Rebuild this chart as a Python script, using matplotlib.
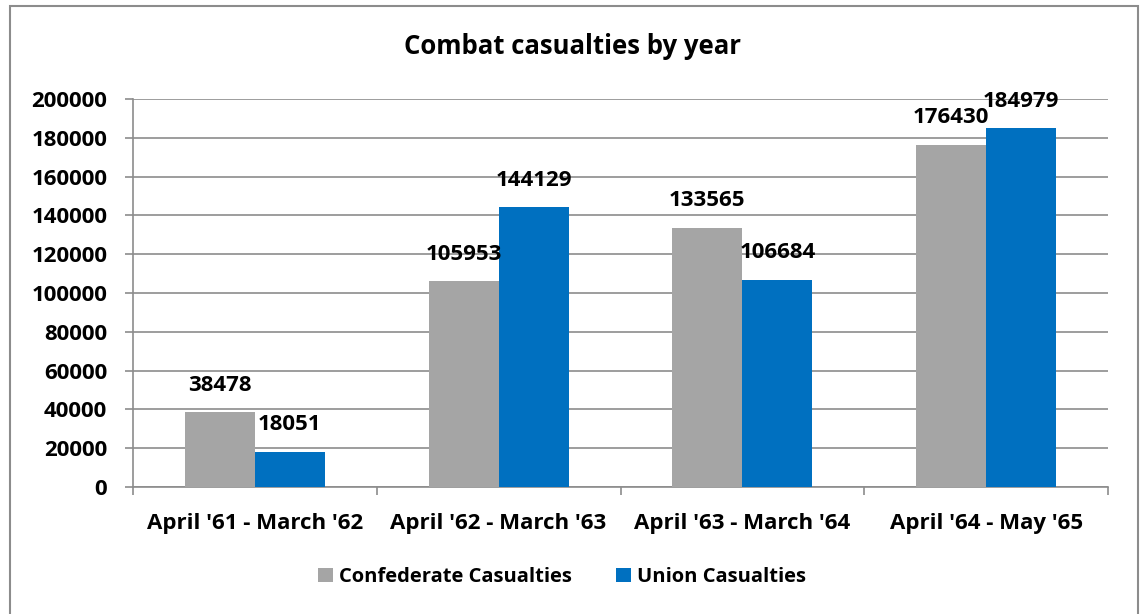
import numpy as np
import matplotlib
matplotlib.use("Agg")
import matplotlib.pyplot as plt
from matplotlib.patches import Rectangle

plt.rcParams.update({
    "font.family": ["Open Sans", "DejaVu Sans"],
    "font.weight": "bold",
})

periods = ["April '61 - March '62", "April '62 - March '63",
           "April '63 - March '64", "April '64 - May '65"]
confederate = [38478, 105953, 133565, 176430]
union = [18051, 144129, 106684, 184979]

GREY = "#A5A5A5"
BLUE = "#0070C0"
LINE = "#8C8C8C"

fig = plt.figure(figsize=(11.42, 6.14), dpi=100)
fig.patch.set_facecolor("white")
# outer chart frame
fig.add_artist(Rectangle((10 / 1142, -0.01), 1128 / 1142, 1 - 6 / 614 + 0.01,
                         transform=fig.transFigure, fill=False,
                         edgecolor=LINE, linewidth=1.5))

ax = fig.add_axes([133 / 1142, 1 - 487 / 614, (1108 - 133) / 1142, (487 - 99) / 614])

x = np.arange(len(periods))
w = 70 / 244
b1 = ax.bar(x - w / 2, confederate, w, color=GREY, label="Confederate Casualties", zorder=3)
b2 = ax.bar(x + w / 2, union, w, color=BLUE, label="Union Casualties", zorder=3)

for bars, vals in [(b1, confederate), (b2, union)]:
    for r, v in zip(bars, vals):
        ax.annotate(str(v), (r.get_x() + r.get_width() / 2, v),
                    xytext=(0, 19.5), textcoords="offset points",
                    ha="center", va="center", fontsize=16, fontweight="bold", zorder=4)

ax.set_xlim(-0.5, len(periods) - 0.5)
ax.set_ylim(0, 200000)
ax.set_yticks(range(0, 200001, 20000))
ax.yaxis.grid(True, color=LINE, linewidth=1.2, zorder=0)
ax.set_axisbelow(True)

ax.set_xticks(x)
ax.set_xticklabels(periods, fontsize=16, fontweight="bold")
ax.set_xticks(np.arange(-0.5, len(periods), 1), minor=True)
ax.tick_params(axis="x", which="major", length=0, pad=19)
ax.tick_params(axis="x", which="minor", length=6, width=1.2, color=LINE, direction="out")
ax.tick_params(axis="y", length=6, width=1.2, color=LINE, direction="out", labelsize=16, pad=12.5)
for lab in ax.get_yticklabels():
    lab.set_fontweight("bold")

for s in ["top", "right"]:
    ax.spines[s].set_visible(False)
ax.spines["left"].set_color(LINE)
ax.spines["bottom"].set_color(LINE)
ax.spines["left"].set_linewidth(1.2)
ax.spines["bottom"].set_linewidth(1.2)

fig.text(573 / 1142, 1 - 47 / 614, "Combat casualties by year", ha="center", va="center",
         fontsize=18.5, fontweight="bold")

fig.legend(handles=[b1, b2], loc="center", bbox_to_anchor=(562 / 1142, 1 - 577 / 614),
           ncol=2, frameon=False, prop={"size": 14.5, "weight": "bold"},
           handlelength=0.75, handleheight=0.75, handletextpad=0.3, columnspacing=2.2)

fig.savefig("out.png", dpi=100)
